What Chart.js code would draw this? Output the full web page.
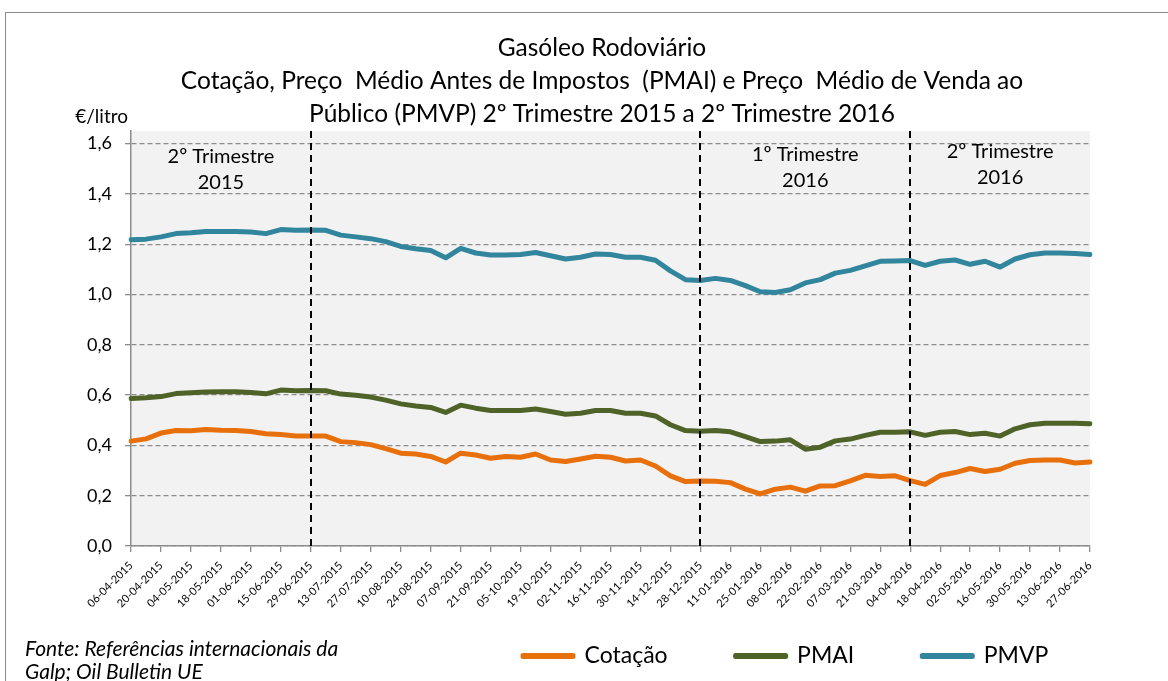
<!DOCTYPE html>
<html>
<head>
<meta charset="utf-8">
<script src="https://cdn.jsdelivr.net/npm/chart.js@4.4.1/dist/chart.umd.min.js"></script>
<style>
  html, body { margin: 0; padding: 0; background: #fff; }
  #wrap { position: relative; width: 1168px; height: 681px; overflow: hidden; }
  #frame { position: absolute; left: 5px; top: 12px; width: 1200px; height: 700px;
           border: 1.5px solid #8c8c8c; box-sizing: border-box; }
  #fonte { position: absolute; left: 25px; top: 636px; font: italic 21px Lato, sans-serif;
           line-height: 23px; color: #000; white-space: nowrap; }
  canvas { position: absolute; left: 0; top: 0; }
</style>
</head>
<body>
<div id="wrap">
  <div id="frame"></div>
  <canvas id="grafico" width="1168" height="681"></canvas>
  <div id="fonte">Fonte: Referências internacionais da<br>Galp; Oil Bulletin UE</div>
</div>
<script>
// semanas (segundas-feiras)
const semanas = [
  "06-04-2015","13-04-2015","20-04-2015","27-04-2015","04-05-2015","11-05-2015","18-05-2015",
  "25-05-2015","01-06-2015","08-06-2015","15-06-2015","22-06-2015","29-06-2015","06-07-2015",
  "13-07-2015","20-07-2015","27-07-2015","03-08-2015","10-08-2015","17-08-2015","24-08-2015",
  "31-08-2015","07-09-2015","14-09-2015","21-09-2015","28-09-2015","05-10-2015","12-10-2015",
  "19-10-2015","26-10-2015","02-11-2015","09-11-2015","16-11-2015","23-11-2015","30-11-2015",
  "07-12-2015","14-12-2015","21-12-2015","28-12-2015","04-01-2016","11-01-2016","18-01-2016",
  "25-01-2016","01-02-2016","08-02-2016","15-02-2016","22-02-2016","29-02-2016","07-03-2016",
  "14-03-2016","21-03-2016","28-03-2016","04-04-2016","11-04-2016","18-04-2016","25-04-2016",
  "02-05-2016","09-05-2016","16-05-2016","23-05-2016","30-05-2016","06-06-2016","13-06-2016",
  "20-06-2016","27-06-2016"
];

const cotacao = [
  0.417,0.426,0.449,0.459,0.458,0.463,0.460,0.459,0.455,0.446,
  0.443,0.437,0.437,0.437,0.415,0.411,0.403,0.387,0.369,0.366,
  0.356,0.334,0.369,0.362,0.349,0.356,0.353,0.366,0.342,0.336,
  0.346,0.357,0.353,0.338,0.342,0.318,0.279,0.256,0.258,0.257,
  0.252,0.226,0.207,0.226,0.234,0.218,0.239,0.240,0.259,0.281,
  0.276,0.279,0.260,0.245,0.280,0.292,0.308,0.296,0.305,0.329,
  0.340,0.342,0.342,0.330,0.334
];

const pmai = [
  0.586,0.589,0.594,0.606,0.609,0.612,0.613,0.613,0.610,0.605,
  0.620,0.617,0.618,0.617,0.604,0.599,0.592,0.580,0.565,0.557,
  0.551,0.531,0.560,0.548,0.539,0.539,0.539,0.545,0.535,0.524,
  0.528,0.539,0.539,0.528,0.528,0.517,0.482,0.459,0.456,0.459,
  0.454,0.435,0.415,0.417,0.422,0.385,0.393,0.418,0.425,0.440,
  0.452,0.452,0.454,0.440,0.452,0.455,0.443,0.448,0.437,0.466,
  0.482,0.488,0.488,0.488,0.486
];

const pmvp = [
  1.218,1.220,1.229,1.242,1.245,1.250,1.250,1.250,1.248,1.242,
  1.258,1.255,1.256,1.255,1.236,1.229,1.222,1.210,1.191,1.182,
  1.175,1.146,1.183,1.165,1.157,1.157,1.159,1.167,1.154,1.141,
  1.148,1.161,1.159,1.148,1.148,1.136,1.094,1.059,1.056,1.064,
  1.056,1.035,1.011,1.008,1.019,1.046,1.059,1.085,1.096,1.114,
  1.132,1.133,1.135,1.116,1.132,1.137,1.120,1.132,1.109,1.141,
  1.158,1.165,1.165,1.163,1.159
];

// inicio de cada trimestre
const quebras = ["29-06-2015", "28-12-2015", "04-04-2016"];
const trimestres = [["2º Trimestre", "2015"], ["1º Trimestre", "2016"], ["2º Trimestre", "2016"]];
const centroTrimestre = ["18-05-2015", "15-02-2016", "16-05-2016"];

const FONTE = "Lato, sans-serif";
const LEGENDA_FONT = 23;

// fundo cinza da area do grafico
const fundo = {
  id: "fundo",
  beforeDraw(chart) {
    const { ctx, chartArea: a } = chart;
    ctx.save();
    ctx.fillStyle = "#f2f2f2";
    ctx.fillRect(a.left, a.top, a.right - a.left, a.bottom - a.top);
    ctx.restore();
  }
};

// linhas tracejadas dos trimestres + textos
const marcas = {
  id: "marcas",
  afterDatasetsDraw(chart) {
    const { ctx, chartArea: a, scales } = chart;
    const x = scales.x;
    ctx.save();
    ctx.strokeStyle = "#000";
    ctx.lineWidth = 2;
    ctx.setLineDash([7, 5]);
    quebras.forEach((d) => {
      const px = Math.round(x.getPixelForValue(semanas.indexOf(d)));
      ctx.beginPath();
      ctx.moveTo(px, a.top);
      ctx.lineTo(px, a.bottom);
      ctx.stroke();
    });
    ctx.setLineDash([]);
    ctx.fillStyle = "#000";
    ctx.font = "20px " + FONTE;
    ctx.textAlign = "center";
    ctx.textBaseline = "middle";
    const topos = [26, 24, 21];
    trimestres.forEach((t, i) => {
      const px = x.getPixelForValue(semanas.indexOf(centroTrimestre[i]));
      ctx.fillText(t[0], px, a.top + topos[i]);
      ctx.fillText(t[1], px, a.top + topos[i] + 26);
    });
    // unidade do eixo
    ctx.font = "19px " + FONTE;
    ctx.textAlign = "right";
    ctx.fillText("€/litro", a.left - 3, a.top - 14);
    ctx.restore();
  }
};

// posiciona titulo e legenda como no original
const alinhar = {
  id: "alinhar",
  afterLayout(chart) {
    const t = chart.titleBlock;
    if (t) {
      const dx = 602 - (t.left + t.right) / 2;
      t.left += dx; t.right += dx;
    }
    const lg = chart.legend;
    if (lg && lg.lineWidths) {
      const pad = lg.options.labels.padding;
      const start = (lg.left + pad + lg.right - lg.lineWidths[0]) / 2;
      const dx = 523 - start;
      lg.left += dx; lg.right += dx;
      const dy = 656 - (lg.top + pad + LEGENDA_FONT / 2);
      lg.top += dy; lg.bottom += dy;
    }
  }
};

const ctx = document.getElementById("grafico").getContext("2d");

new Chart(ctx, {
  type: "line",
  data: {
    labels: semanas,
    datasets: [
      { label: "Cotação", data: cotacao, borderColor: "#e8700c", backgroundColor: "#e8700c" },
      { label: "PMAI", data: pmai, borderColor: "#4f6228", backgroundColor: "#4f6228" },
      { label: "PMVP", data: pmvp, borderColor: "#31859c", backgroundColor: "#31859c" }
    ].map((d) => Object.assign(d, {
      borderWidth: 5,
      pointRadius: 0,
      tension: 0,
      borderJoinStyle: "round",
      borderCapStyle: "round"
    }))
  },
  options: {
    responsive: false,
    animation: false,
    layout: { padding: { left: 10, right: 78, top: 32, bottom: -32 } },
    plugins: {
      title: {
        display: true,
        text: [
          "Gasóleo Rodoviário",
          "Cotação, Preço  Médio Antes de Impostos  (PMAI) e Preço  Médio de Venda ao",
          "Público (PMVP) 2º Trimestre 2015 a 2º Trimestre 2016"
        ],
        color: "#000",
        font: { family: FONTE, size: 24.5, weight: "normal", lineHeight: "33px" },
        padding: { top: 0, bottom: 0 }
      },
      legend: {
        position: "bottom",
        labels: {
          color: "#000",
          font: { family: FONTE, size: LEGENDA_FONT },
          boxWidth: 50,
          boxHeight: 1,
          padding: 68
        }
      },
      tooltip: { enabled: false }
    },
    scales: {
      x: {
        afterFit(s) { s.height = 66; },
        grid: { display: true, drawOnChartArea: false, drawTicks: true, tickLength: 6, color: "#8c8c8c", lineWidth: 1.3 },
        border: { display: true, color: "#8c8c8c", width: 1.5 },
        ticks: {
          autoSkip: false,
          minRotation: 45,
          maxRotation: 45,
          padding: 7,
          color: "#000",
          font: { family: FONTE, size: 11 },
          callback(v, i) { return i % 2 === 0 ? this.getLabelForValue(v) : null; }
        }
      },
      y: {
        min: 0,
        max: 1.65,
        afterFit(s) { s.width = 121; },
        grid: { color: "#8c8c8c", lineWidth: 1.3, tickLength: 6, tickBorderDash: [] },
        border: { display: true, color: "#8c8c8c", width: 1.5, dash: [5, 3] },
        ticks: {
          stepSize: 0.2,
          includeBounds: false,
          padding: 13,
          color: "#000",
          font: { family: FONTE, size: 18 },
          callback(v) { return v.toFixed(1).replace(".", ","); }
        }
      }
    }
  },
  plugins: [fundo, marcas, alinhar]
});
</script>
</body>
</html>
